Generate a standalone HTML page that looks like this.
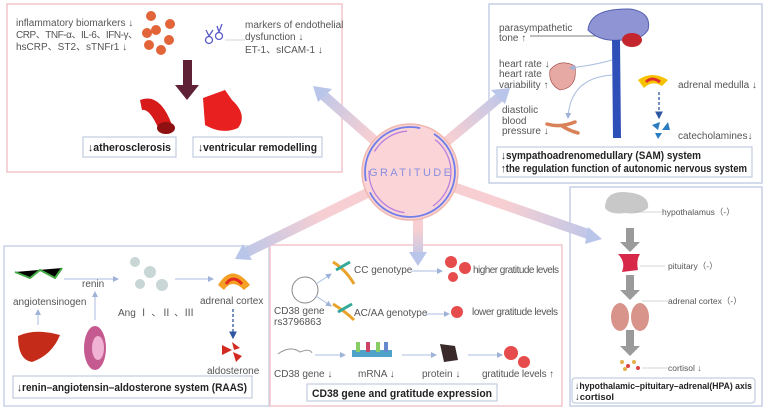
<!DOCTYPE html>
<html><head><meta charset="utf-8"><style>
body{margin:0;background:#fff}
svg{display:block;font-family:"Liberation Sans","Noto Sans CJK SC",sans-serif}
.t{font-size:10px;fill:#555}
.b{font-size:11px;font-weight:bold;fill:#222}
</style></head><body>
<svg width="767" height="412" viewBox="0 0 767 412">
<defs>
<linearGradient id="ga" gradientUnits="userSpaceOnUse" x1="410" y1="172" x2="315" y2="88"><stop offset="0.4" stop-color="#f7cfd2"/><stop offset="1" stop-color="#b9c6ea"/></linearGradient>
<linearGradient id="gb" gradientUnits="userSpaceOnUse" x1="410" y1="172" x2="508" y2="90"><stop offset="0.4" stop-color="#f7cfd2"/><stop offset="1" stop-color="#b9c6ea"/></linearGradient>
<linearGradient id="gc" gradientUnits="userSpaceOnUse" x1="410" y1="172" x2="237" y2="257"><stop offset="0.5" stop-color="#f7cfd2"/><stop offset="1" stop-color="#b9c6ea"/></linearGradient>
<linearGradient id="gd" gradientUnits="userSpaceOnUse" x1="410" y1="172" x2="600" y2="238"><stop offset="0.5" stop-color="#f7cfd2"/><stop offset="1" stop-color="#b9c6ea"/></linearGradient>
<linearGradient id="ge" gradientUnits="userSpaceOnUse" x1="0" y1="215" x2="0" y2="262"><stop offset="0.3" stop-color="#f7cfd2"/><stop offset="1" stop-color="#b9c6ea"/></linearGradient>
<marker id="ar" markerWidth="6" markerHeight="6" refX="5" refY="3" orient="auto"><path d="M0,0L6,3L0,6z" fill="#9fb3d8"/></marker>
<marker id="ad" markerWidth="6" markerHeight="6" refX="5" refY="3" orient="auto"><path d="M0,0L6,3L0,6z" fill="#2f56a0"/></marker>
</defs>
<rect x="7" y="4" width="335" height="168" fill="#fff" stroke="#f1c6cc" stroke-width="1.5"/>
<rect x="489" y="4" width="273" height="179" fill="#fff" stroke="#c5cfe6" stroke-width="1.5"/>
<rect x="4" y="246" width="265" height="160" fill="#fff" stroke="#c9d2ea" stroke-width="1.5"/>
<rect x="270" y="245" width="292" height="161" fill="#fff" stroke="#f1c6cc" stroke-width="1.5"/>
<rect x="570" y="187" width="192" height="219" fill="#fff" stroke="#c5cfe6" stroke-width="1.5"/>
<g stroke-width="10" fill="none">
<line x1="410" y1="172" x2="322" y2="94" stroke="url(#ga)"/>
<line x1="410" y1="172" x2="501" y2="96" stroke="url(#gb)"/>
<line x1="410" y1="172" x2="245" y2="253" stroke="url(#gc)"/>
<line x1="410" y1="172" x2="591" y2="235" stroke="url(#gd)"/>
<line x1="418" y1="215" x2="418" y2="252" stroke="url(#ge)"/>
</g>
<g fill="#b9c6ea">
<path d="M313,86 L332,89 L318,102z"/>
<path d="M510,88 L491,90 L505,104z"/>
<path d="M235,259 L243,244 L252,260z"/>
<path d="M602,239 L588,227 L585,244z"/>
<path d="M418,266 L409,252 L427,252z"/>
</g>
<circle cx="410" cy="172" r="48" fill="#fad4d6" stroke="#f0b8b0" stroke-width="1.5"/>
<circle cx="410" cy="172" r="45" fill="none" stroke="#6f7ee8" stroke-width="1.8" stroke-dasharray="120 12 90 15"/>
<circle cx="410" cy="172" r="41" fill="none" stroke="#b67ae0" stroke-width="1.2" stroke-dasharray="40 30 60 20"/>
<text x="410" y="176" text-anchor="middle" font-size="11" fill="#8a8ee0" textLength="82" lengthAdjust="spacing">GRATITUDE</text>
<text class="t" x="16" y="26">inflammatory biomarkers ↓</text>
<text class="t" x="16" y="38" textLength="122">CRP、TNF-α、IL-6、IFN-γ、</text>
<text class="t" x="16" y="50">hsCRP、ST2、sTNFr1 ↓</text>
<g fill="#e2653a"><circle cx="151" cy="16" r="5"/><circle cx="170" cy="24" r="5"/><circle cx="147" cy="33" r="5"/><circle cx="156" cy="30" r="5"/><circle cx="169" cy="40" r="5"/><circle cx="149" cy="45" r="5"/><circle cx="161" cy="50" r="5"/></g>
<g fill="none" stroke="#5a5ac8" stroke-width="1.3"><circle cx="209" cy="40" r="3.5"/><circle cx="219" cy="36" r="3.5"/><path d="M206,30 L209,36 M213,30 L209,36 M217,26 L219,32 M222,24 L219,32"/></g>
<line x1="225" y1="40" x2="245" y2="40" stroke="#aaa" stroke-width="0.6"/>
<text class="t" x="245" y="28">markers of endothelial</text>
<text class="t" x="245" y="40">dysfunction ↓</text>
<text class="t" x="245" y="53">ET-1、sICAM-1 ↓</text>
<path d="M183,60 L192,60 L192,85 L199,85 L187,100 L175,85 L183,85z" fill="#5e2135"/>
<path d="M140,100 Q160,92 172,125 L160,132 Q150,108 142,110z" fill="#d71a1a"/>
<ellipse cx="166" cy="128" rx="9" ry="6" fill="#8e1010"/>
<path d="M203,98 L225,90 L232,100 Q248,115 238,128 Q222,135 205,125z" fill="#e8201f"/>
<rect x="83" y="137" width="93" height="20" fill="#fff" stroke="#b6c0d8"/>
<text class="b" x="88" y="151" textLength="83" lengthAdjust="spacingAndGlyphs">↓atherosclerosis</text>
<rect x="193" y="137" width="129" height="20" fill="#fff" stroke="#b6c0d8"/>
<text class="b" x="198" y="151" textLength="119" lengthAdjust="spacingAndGlyphs">↓ventricular remodelling</text>
<text class="t" x="499" y="31">parasympathetic</text>
<text class="t" x="499" y="41">tone ↑</text>
<line x1="530" y1="36" x2="612" y2="36" stroke="#555" stroke-width="0.7"/>
<path d="M588,30 Q590,8 630,9 Q652,12 648,30 Q640,42 620,40 Q600,42 588,30z" fill="#8f95d4" stroke="#555fb0"/>
<ellipse cx="632" cy="40" rx="10" ry="7" fill="#c3262c"/>
<path d="M612,40 L620,40 L621,138 L613,138z" fill="#2f4fb8"/>
<text class="t" x="499" y="67">heart rate ↓</text>
<text class="t" x="499" y="77">heart rate</text>
<text class="t" x="499" y="88">variability ↑</text>
<path d="M550,70 Q560,58 575,66 Q578,88 560,90 Q548,84 550,70z" fill="#e7a9a4" stroke="#9c4040" stroke-width="0.6"/>
<path d="M612,60 Q595,65 570,68" fill="none" stroke="#a8bde0" marker-end="url(#ar)"/>
<path d="M612,75 Q570,78 568,118" fill="none" stroke="#a8bde0" marker-end="url(#ar)"/>
<text class="t" x="502" y="113">diastolic</text>
<text class="t" x="502" y="124">blood</text>
<text class="t" x="502" y="134">pressure ↓</text>
<path d="M547,124 Q560,128 575,122 M562,126 Q570,131 578,133" stroke="#d9825a" stroke-width="3.5" fill="none" stroke-linecap="round"/>
<path d="M638,80 Q652,70 668,80 L662,86 Q652,80 644,88z" fill="#f6c200"/>
<path d="M646,82 Q652,76 660,82" stroke="#e2302a" stroke-width="3" fill="none"/>
<line x1="659" y1="92" x2="659" y2="118" stroke="#2f56a0" stroke-width="1.3" stroke-dasharray="3 2" marker-end="url(#ad)"/>
<g fill="#2b7cc0"><path d="M652,125 L660,122 L658,130z"/><path d="M662,130 L668,122 L670,130z"/><path d="M655,133 L662,133 L658,139z"/></g>
<text class="t" x="678" y="88">adrenal medulla ↓</text>
<text class="t" x="678" y="139">catecholamines↓</text>
<rect x="497" y="147" width="255" height="30" fill="#fff" stroke="#b6c0d8"/>
<text class="b" x="501" y="159" textLength="200" lengthAdjust="spacingAndGlyphs">↓sympathoadrenomedullary (SAM) system</text>
<text class="b" x="501" y="172" textLength="246" lengthAdjust="spacingAndGlyphs">↑the regulation function of autonomic nervous system</text>
<g stroke="#4a4" stroke-width="2"><path d="M15,272 L30,278 L40,270 L55,278 L62,268"/></g>
<text class="t" x="13" y="305">angiotensinogen</text>
<text class="t" x="82" y="287">renin</text>
<line x1="64" y1="279" x2="118" y2="279" stroke="#a8bde0" marker-end="url(#ar)"/>
<line x1="38" y1="325" x2="38" y2="310" stroke="#a8bde0" marker-end="url(#ar)"/>
<line x1="95" y1="320" x2="95" y2="292" stroke="#a8bde0" marker-end="url(#ar)"/>
<g fill="#bcc" opacity="0.8"><circle cx="135" cy="262" r="5"/><circle cx="150" cy="272" r="6"/><circle cx="162" cy="285" r="6"/><circle cx="140" cy="284" r="5"/></g>
<text class="t" x="118" y="316">Ang Ⅰ 、Ⅱ 、Ⅲ</text>
<line x1="175" y1="279" x2="213" y2="279" stroke="#a8bde0" marker-end="url(#ar)"/>
<path d="M218,285 Q232,262 250,285 L244,290 Q232,278 224,290z" fill="#f3a024"/>
<path d="M226,284 Q233,274 242,284" stroke="#e52b20" stroke-width="3" fill="none"/>
<text class="t" x="200" y="304">adrenal cortex</text>
<line x1="233" y1="309" x2="233" y2="338" stroke="#2f56a0" stroke-width="1.3" stroke-dasharray="3 2" marker-end="url(#ad)"/>
<g fill="#d32a22"><path d="M222,345 L232,350 L222,355z"/><path d="M232,342 L240,348 L234,350z"/><path d="M233,352 L242,356 L236,362z"/></g>
<text class="t" x="207" y="374">aldosterone</text>
<path d="M18,336 Q35,328 60,335 Q52,355 32,362 Q18,360 18,336z" fill="#c42b18"/>
<ellipse cx="95" cy="348" rx="11" ry="22" fill="#c45a8f"/>
<ellipse cx="98" cy="348" rx="6" ry="12" fill="#f0b3d3"/>
<rect x="13" y="376" width="239" height="22" fill="#fff" stroke="#b6c0d8"/>
<text class="b" x="17" y="391" textLength="230" lengthAdjust="spacingAndGlyphs">↓renin–angiotensin–aldosterone system (RAAS)</text>
<circle cx="305" cy="290" r="13" fill="none" stroke="#888" stroke-width="1"/>
<line x1="316" y1="284" x2="331" y2="274" stroke="#a8bde0" marker-end="url(#ar)"/>
<line x1="316" y1="296" x2="331" y2="306" stroke="#a8bde0" marker-end="url(#ar)"/>
<text class="t" x="274" y="314">CD38 gene</text>
<text class="t" x="274" y="325">rs3796863</text>
<g stroke-width="3" fill="none"><path d="M333,262 Q346,270 354,284" stroke="#e9a22a"/><path d="M333,304 Q346,312 354,320" stroke="#e9a22a"/><path d="M336,270 L350,262 M338,312 L352,304" stroke="#3a9"/></g>
<text class="t" x="354" y="273">CC genotype</text>
<text class="t" x="354" y="316">AC/AA genotype</text>
<line x1="412" y1="271" x2="442" y2="271" stroke="#a8bde0" marker-end="url(#ar)"/>
<line x1="425" y1="314" x2="449" y2="314" stroke="#a8bde0" marker-end="url(#ar)"/>
<g fill="#e64c4c"><circle cx="451" cy="262" r="6"/><circle cx="465" cy="268" r="6"/><circle cx="453" cy="277" r="5"/><circle cx="457" cy="312" r="6"/><circle cx="511" cy="353" r="7"/><circle cx="524" cy="362" r="6"/></g>
<text class="t" x="473" y="273" textLength="86">higher gratitude levels</text>
<text class="t" x="472" y="315" textLength="86">lower gratitude levels</text>
<path d="M278,354 Q290,345 300,352 Q310,348 312,353" stroke="#999" fill="none"/>
<line x1="315" y1="355" x2="345" y2="355" stroke="#a8bde0" marker-end="url(#ar)"/>
<rect x="352" y="350" width="40" height="7" fill="#4fa3c8"/>
<g fill="#8c6"><rect x="356" y="342" width="4" height="10"/><rect x="366" y="342" width="4" height="10" fill="#c46"/><rect x="376" y="342" width="4" height="10"/><rect x="384" y="342" width="4" height="10" fill="#68c"/></g>
<line x1="402" y1="355" x2="436" y2="355" stroke="#a8bde0" marker-end="url(#ar)"/>
<path d="M440,344 L455,346 L458,360 L444,362z" fill="#3a2a2a"/>
<line x1="468" y1="355" x2="502" y2="355" stroke="#a8bde0" marker-end="url(#ar)"/>
<text class="t" x="274" y="377">CD38 gene ↓</text>
<text class="t" x="358" y="377">mRNA ↓</text>
<text class="t" x="422" y="377">protein ↓</text>
<text class="t" x="482" y="377" textLength="72">gratitude levels ↑</text>
<rect x="307" y="384" width="190" height="17" fill="#fff" stroke="#b6c0d8"/>
<text class="b" x="312" y="397" textLength="180" lengthAdjust="spacingAndGlyphs">CD38 gene and gratitude expression</text>
<path d="M605,208 Q605,192 623,192 Q650,193 648,208 Q640,215 625,213 Q610,215 605,208z" fill="#c8c8c8"/>
<line x1="635" y1="212" x2="662" y2="212" stroke="#aaa" stroke-width="0.6"/>
<text x="662" y="215" font-size="8.5" fill="#555">hypothalamus（-）</text>
<g fill="#9a9a9a"><path d="M626,228 L634,228 L634,242 L640,242 L630,252 L620,242 L626,242z"/><path d="M626,275 L634,275 L634,290 L640,290 L630,300 L620,290 L626,290z"/><path d="M626,330 L634,330 L634,346 L640,346 L630,356 L620,346 L626,346z"/></g>
<path d="M618,254 L640,254 Q636,260 638,270 L622,272 Q626,262 618,254z" fill="#d8284a"/>
<line x1="640" y1="266" x2="665" y2="266" stroke="#aaa" stroke-width="0.6"/>
<text x="668" y="269" font-size="8.5" fill="#555">pituitary（-）</text>
<ellipse cx="620" cy="317" rx="9" ry="14" fill="#d8948a"/><ellipse cx="640" cy="317" rx="9" ry="14" fill="#d8948a"/>
<line x1="642" y1="301" x2="668" y2="301" stroke="#aaa" stroke-width="0.6"/>
<text x="668" y="304" font-size="8.5" fill="#555">adrenal cortex（-）</text>
<g fill="#e3b04a"><circle cx="622" cy="362" r="2"/><circle cx="628" cy="366" r="2" fill="#d44"/><circle cx="634" cy="362" r="2"/><circle cx="638" cy="368" r="2" fill="#d44"/><circle cx="625" cy="369" r="2"/></g>
<line x1="642" y1="368" x2="668" y2="368" stroke="#aaa" stroke-width="0.6"/>
<text x="668" y="371" font-size="8.5" fill="#555">cortisol ↓</text>
<rect x="572" y="378" width="183" height="25" rx="3" fill="#fff" stroke="#b6c0d8"/>
<text x="575" y="389" font-size="9.5" font-weight="bold" fill="#222" textLength="177" lengthAdjust="spacingAndGlyphs">↓hypothalamic–pituitary–adrenal(HPA) axis</text>
<text x="575" y="400" font-size="9.5" font-weight="bold" fill="#222">↓cortisol</text>
</svg>
</body></html>
